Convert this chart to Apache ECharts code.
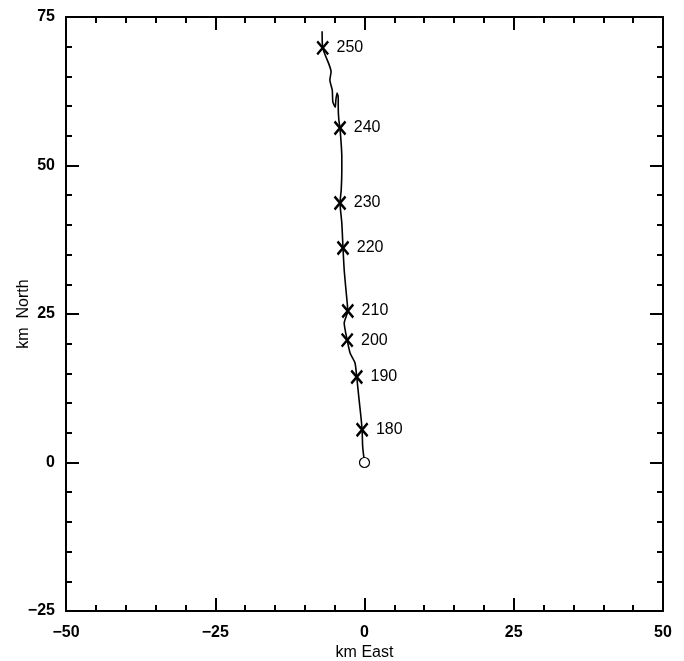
<!DOCTYPE html>
<html><head><meta charset="utf-8">
<script src="https://cdn.jsdelivr.net/npm/echarts@6/dist/echarts.min.js"></script>
<style>html,body{margin:0;padding:0;background:#fff}#c{width:684px;height:661px}</style>
</head><body><div id="c"></div>
<script>
// Track (km East, km North)
const trackEast  = [0, -0.3, -0.4, -0.6, -0.9, -1.3, -1.6, -2.4, -2.9, -3.4, -2.8, -2.9, -3.1, -3.4, -3.6, -3.8, -4.1, -3.9, -3.8, -3.8, -4.1, -4.3, -4.4, -4.4, -4.6, -4.8, -4.9, -5.3, -5.4, -5.8, -5.6, -5.9, -7.0, -7.1];
const trackNorth = [0, 2.6, 5.5, 7.7, 10.5, 14.4, 16.8, 18.4, 20.6, 23.5, 25.5, 26.9, 29.0, 32.4, 36.1, 40.3, 43.7, 45.9, 49.2, 51.4, 56.3, 57.7, 59.8, 61.5, 62.2, 61.0, 59.8, 60.7, 62.7, 64.4, 65.8, 66.9, 69.8, 72.6];
// Time marks
const markLabels = ['180', '190', '200', '210', '220', '230', '240', '250'];
const markEast   = [-0.4, -1.3, -2.9, -2.8, -3.6, -4.1, -4.1, -7.0];
const markNorth  = [5.5, 14.4, 20.6, 25.5, 36.1, 43.7, 56.3, 69.8];
const xTicks = [-50, -25, 0, 25, 50];
const yTicks = [-25, 0, 25, 50, 75];

const font = 'Liberation Sans, Arial, sans-serif';
const chart = echarts.init(document.getElementById('c'));
const tickCommon = () => ({
  axisLine: {show: true, onZero: false, lineStyle: {color: '#000', width: 2}},
  axisTick: {show: true, inside: true, length: 13, lineStyle: {color: '#000', width: 2}},
  minorTick: {show: true, splitNumber: 5, length: 6, lineStyle: {color: '#000', width: 2}},
  splitLine: {show: false}
});
const xBase = () => ({type: 'value', min: -50, max: 50, interval: 25});
const yBase = () => ({type: 'value', min: -25, max: 75, interval: 25});
const lab = {fontFamily: font, fontSize: 16, fontWeight: 'bold', color: '#000'};
chart.setOption({
  animation: false,
  grid: {left: 66, right: 21, top: 17, bottom: 50, containLabel: false, outerBoundsMode: 'none'},
  xAxis: [
    Object.assign(xBase(), tickCommon(), {position: 'bottom', name: 'km East', nameLocation: 'middle', nameGap: 34,
      nameMoveOverlap: false,
      nameTextStyle: {fontFamily: font, fontSize: 16, color: '#000'},
      axisLabel: Object.assign({}, lab, {margin: 14,
        formatter: v => xTicks.includes(v) ? String(v).replace('-', '\u2212') : ''})}),
    Object.assign(xBase(), tickCommon(), {position: 'top', axisLabel: {show: false}})
  ],
  yAxis: [
    Object.assign(yBase(), tickCommon(), {position: 'left', name: 'km  North', nameLocation: 'middle', nameGap: 34,
      nameMoveOverlap: false,
      nameTextStyle: {fontFamily: font, fontSize: 16, color: '#000'},
      axisLabel: Object.assign({}, lab, {margin: 11,
        formatter: v => yTicks.includes(v) ? String(v).replace('-', '\u2212') : ''})}),
    Object.assign(yBase(), tickCommon(), {position: 'right', axisLabel: {show: false}})
  ],
  series: [
    {type: 'line', data: trackEast.map((x, i) => [x, trackNorth[i]]), showSymbol: false, smooth: 0.2,
      lineStyle: {color: '#000', width: 1.6}},
    {type: 'scatter', data: [[0, 0]], symbol: 'circle', symbolSize: 10, z: 5,
      itemStyle: {color: '#fff', borderColor: '#000', borderWidth: 1.2, opacity: 1}},
    {type: 'scatter', data: markEast.map((x, i) => ({value: [x, markNorth[i]], name: markLabels[i]})),
      symbol: 'path://M0,0 L10,12 M10,0 L0,12', symbolSize: [11, 13],
      itemStyle: {color: 'none', borderColor: '#000', borderWidth: 2.5, opacity: 1},
      label: {show: true, position: 'right', distance: 6, formatter: p => p.name,
        fontFamily: font, fontSize: 16, color: '#000'}}
  ]
});
</script></body></html>
